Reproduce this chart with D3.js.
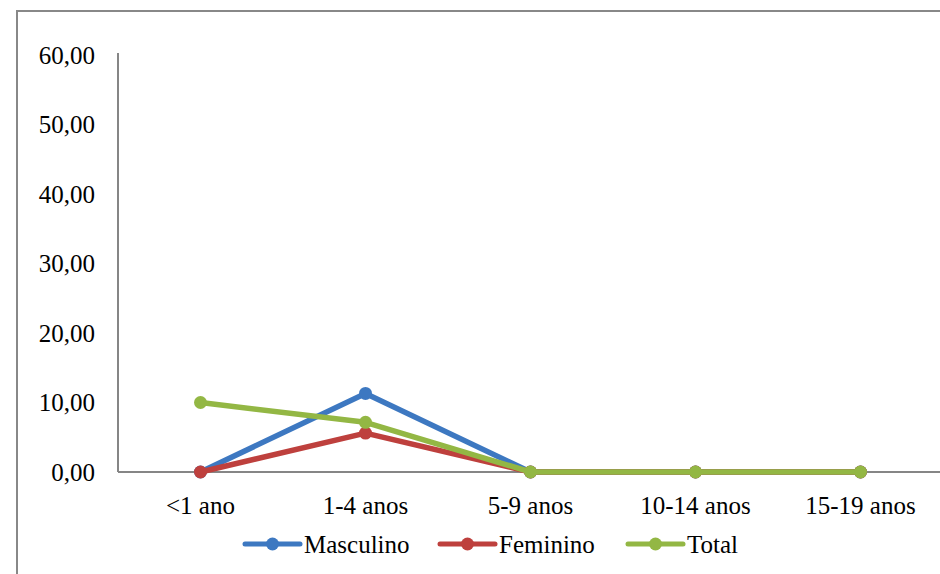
<!DOCTYPE html>
<html><head><meta charset="utf-8">
<script src="https://cdn.jsdelivr.net/npm/d3@7"></script>
<style>html,body{margin:0;padding:0;background:#fff;overflow:hidden}</style>
</head><body>
<svg id="c" width="940" height="574"></svg>
<script>
const categories = ["<1 ano","1-4 anos","5-9 anos","10-14 anos","15-19 anos"];
const masculino = [0, 11.3, 0, 0, 0];
const feminino = [0, 5.6, 0, 0, 0];
const total = [10.0, 7.15, 0, 0, 0];
const yTicks = [0,10,20,30,40,50,60];
const seriesNames = ["Masculino","Feminino","Total"];
const colors = ["#3D78C1","#BE403D","#93B744"];

const svg = d3.select("#c");
const font = "'Liberation Serif','Times New Roman',serif";
const fs = 25;
svg.append("path").attr("d","M17,574 L17,11 L940,11")
  .attr("fill","none").attr("stroke","#888").attr("stroke-width",2);

const x = d3.scaleBand().domain(categories).range([118,943]);
const y = d3.scaleLinear().domain([0,60]).range([472,55]);

svg.append("line").attr("x1",118).attr("x2",118).attr("y1",y(60)-2).attr("y2",y(0))
  .attr("stroke","#868686").attr("stroke-width",2);
svg.selectAll(".yl").data(yTicks).enter().append("text")
  .attr("x",95).attr("y",d=>y(d)).attr("dy","0.35em").attr("text-anchor","end")
  .attr("font-family",font).attr("font-size",fs).attr("fill","#000")
  .text(d=>d3.format(".2f")(d).replace(".",","));
svg.append("line").attr("x1",118).attr("x2",940).attr("y1",y(0)).attr("y2",y(0))
  .attr("stroke","#868686").attr("stroke-width",2);
svg.selectAll(".xl").data(categories).enter().append("text")
  .attr("x",d=>x(d)+x.bandwidth()/2).attr("y",505).attr("dy","0.35em").attr("text-anchor","middle")
  .attr("font-family",font).attr("font-size",fs).attr("fill","#000").text(d=>d);

const data = [masculino, feminino, total];
const line = d3.line().x((d,i)=>x(categories[i])+x.bandwidth()/2).y(d=>y(d));
data.forEach((s,k)=>{
  const g = svg.append("g");
  g.append("path").attr("d",line(s)).attr("fill","none").attr("stroke",colors[k])
    .attr("stroke-width",5.5).attr("stroke-linejoin","round");
  g.selectAll("circle").data(s).enter().append("circle")
    .attr("cx",(d,i)=>x(categories[i])+x.bandwidth()/2).attr("cy",d=>y(d)).attr("r",6.5)
    .attr("fill",colors[k]);
});

const legX = [245,440,628];
seriesNames.forEach((n,k)=>{
  const g = svg.append("g").attr("transform",`translate(${legX[k]},544)`);
  g.append("line").attr("x1",0).attr("x2",55).attr("y1",0).attr("y2",0)
    .attr("stroke",colors[k]).attr("stroke-width",5).attr("stroke-linecap","round");
  g.append("circle").attr("cx",27.5).attr("cy",0).attr("r",6.5).attr("fill",colors[k]);
  g.append("text").attr("x",59).attr("y",0).attr("dy","0.35em")
    .attr("font-family",font).attr("font-size",fs).attr("fill","#000").text(n);
});
</script>
</body></html>
